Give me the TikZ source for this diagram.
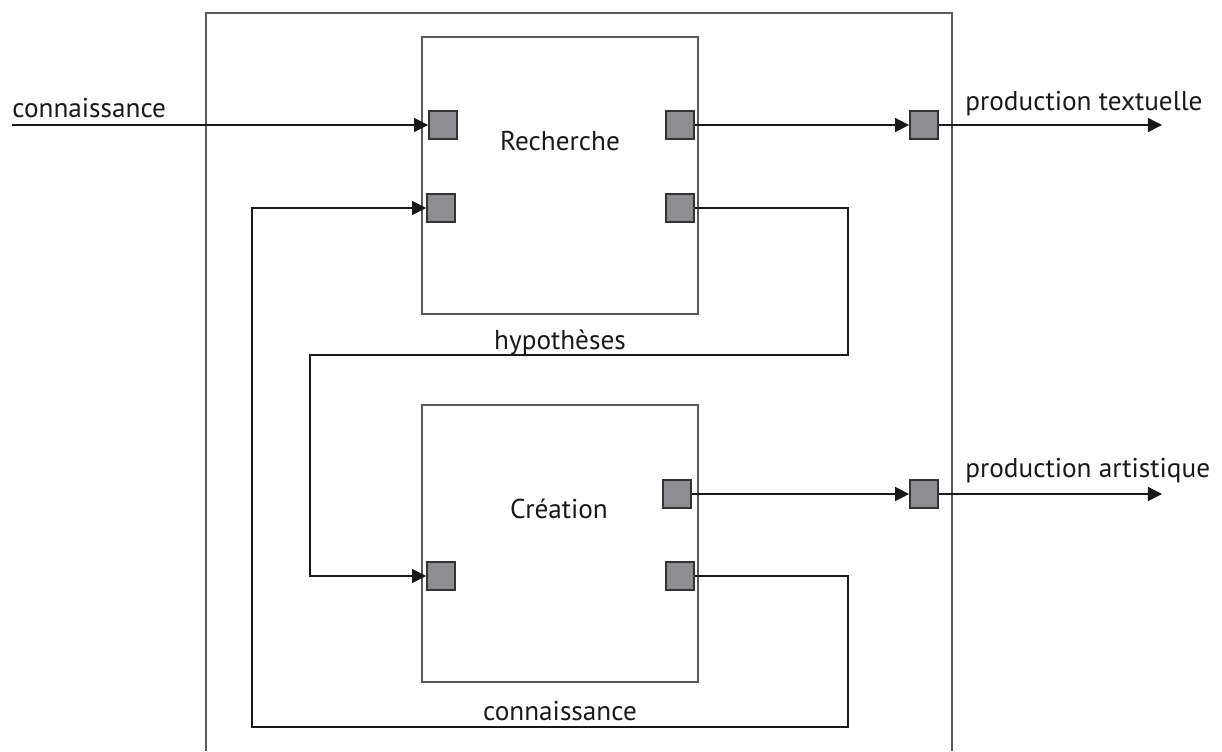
\documentclass[tikz,border=0pt]{standalone}
\usepackage{fontspec}
\setmainfont{PT Sans}
\usetikzlibrary{arrows.meta}

\definecolor{portgray}{RGB}{140,140,145}
\definecolor{framegray}{RGB}{90,90,90}

\tikzset{
  process/.style={draw=framegray, line width=1.1pt, minimum width=5.52cm,
    minimum height=5.54cm, inner sep=0pt},
  port/.style={draw=black!80, fill=portgray, line width=1pt,
    minimum size=0.56cm, inner sep=0pt},
  wire/.style={draw=black!90, line width=0.75pt},
  flow/.style={wire, -{Triangle[length=8pt,width=8pt]}},
  lbl/.style={inner sep=0pt, font=\fontsize{15.5pt}{18pt}\selectfont, text=black!90},
}

\begin{document}
\begin{tikzpicture}[x=0.02cm, y=-0.02cm]
  \useasboundingbox (0,0) rectangle (1222,751);

  % Outer frame (open at the bottom)
  \draw[framegray, line width=0.9pt] (206,751) -- (206,13) -- (952,13) -- (952,751);

  % Processes
  \node[process] (rech) at (560,175.5) {};
  \node[process] (crea) at (560,543.5) {};
  \node[lbl, anchor=base] (rechlbl) at (560,150) {Recherche};
  \node[lbl, anchor=base] (crealbl) at (559,518) {Création};

  % Ports of Recherche
  \node[port] (rin1) at (443,125) {};
  \node[port] (rin2) at (441,208) {};
  \node[port] (rout1) at (680,125) {};
  \node[port] (rout2) at (680,208) {};

  % Ports of Création
  \node[port] (cin1) at (441,576) {};
  \node[port] (cout1) at (677,494) {};
  \node[port] (cout2) at (680,576) {};

  % Ports on the outer frame
  \node[port] (txtport) at (924,125) {};
  \node[port] (artport) at (924,494) {};

  % Free ends
  \coordinate (srcin) at (12,125);
  \coordinate (txtend) at (1162,125);
  \coordinate (artend) at (1162,494);

  % Incoming knowledge
  \draw[flow] (srcin) -- (rin1.west);
  \node[lbl, anchor=base west] (inlbl) at (12,117) {connaissance};

  % Outputs
  \draw[flow] (rout1.east) -- (txtport.west);
  \draw[flow] (txtport.east) -- (txtend);
  \node[lbl, anchor=base west] (txtlbl) at (965,110) {production textuelle};

  \draw[flow] (cout1.east) -- (artport.west);
  \draw[flow] (artport.east) -- (artend);
  \node[lbl, anchor=base west] (artlbl) at (965,477) {production artistique};

  % Loop: hypotheses
  \draw[flow] (rout2.east) -- (848,208) |- (310,355) |- (cin1.west);
  \node[lbl, anchor=base] (hyplbl) at (560,349) {hypothèses};

  % Loop: knowledge back
  \draw[flow] (cout2.east) -- (848,576) |- (252,727) |- (rin2.west);
  \node[lbl, anchor=base] (backlbl) at (560,720) {connaissance};
\end{tikzpicture}
\end{document}
